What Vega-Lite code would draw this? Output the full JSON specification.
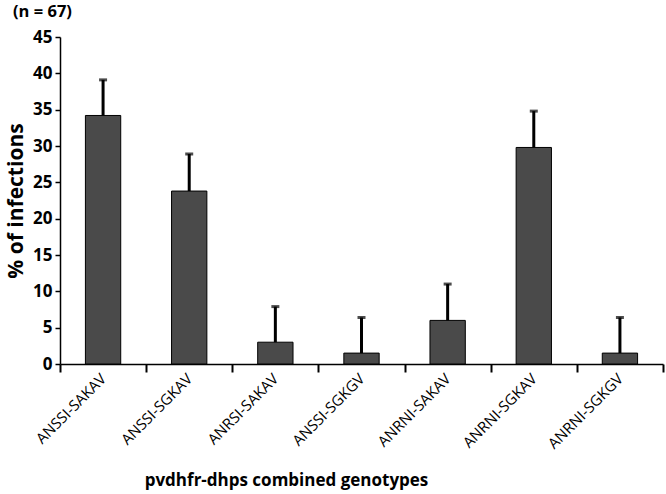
{
  "$schema": "https://vega.github.io/schema/vega-lite/v6.json",
  "autosize": {"type": "none"},
  "padding": {"left": 60, "top": 37, "right": 3, "bottom": 130},
  "width": 603,
  "height": 327,
  "background": "white",
  "title": {"text": "(n = 67)", "anchor": "start", "frame": "group", "dx": -47, "offset": 8, "fontSize": 16.5, "fontWeight": "bold", "font": "Open Sans", "color": "black"},
  "config": {"view": {"stroke": null}, "font": "Open Sans"},
  "data": {"values": [
    {"genotype": "ANSSI-SAKAV", "pct": 34.2, "upper": 39.1},
    {"genotype": "ANSSI-SGKAV", "pct": 23.8, "upper": 28.9},
    {"genotype": "ANRSI-SAKAV", "pct": 3.0, "upper": 7.9},
    {"genotype": "ANSSI-SGKGV", "pct": 1.5, "upper": 6.4},
    {"genotype": "ANRNI-SAKAV", "pct": 6.0, "upper": 11.0},
    {"genotype": "ANRNI-SGKAV", "pct": 29.8, "upper": 34.8},
    {"genotype": "ANRNI-SGKGV", "pct": 1.5, "upper": 6.4}
  ]},
  "encoding": {
    "x": {"field": "genotype", "type": "nominal", "sort": null,
      "scale": {"paddingInner": 0, "paddingOuter": 0},
      "axis": {"title": "pvdhfr-dhps combined genotypes", "labelAngle": -45, "labelAlign": "right", "labelBaseline": "middle", "labelFontSize": 15, "labelColor": "black", "labelPadding": 4,
        "ticks": true, "tickBand": "extent", "tickSize": 8, "tickColor": "#000000", "tickWidth": 2, "tickOpacity": 1, "domainColor": "black", "domainWidth": 1.5,
        "titleFontSize": 17, "titleFontWeight": "bold", "titleColor": "black", "titleX": 226, "titleY": 116, "titleBaseline": "middle"}},
    "y": {"field": "pct", "type": "quantitative",
       "scale": {"domain": [0, 45], "nice": false},
       "axis": {"title": "% of infections", "values": [0,5,10,15,20,25,30,35,40,45], "grid": false, "labelFontSize": 17, "labelFontWeight": "bold", "labelColor": "black", "ticks": true, "tickColor": "black", "tickSize": 5, "tickWidth": 1.5, "domainColor": "black", "domainWidth": 1.5, "labelPadding": 3,
         "titleFontSize": 21, "titleFontWeight": "bold", "titleColor": "black", "titlePadding": 6}}
  },
  "layer": [
    {"mark": {"type": "bar", "color": "#4a4a4a", "stroke": "black", "strokeWidth": 1, "width": {"band": 0.41}}},
    {"mark": {"type": "rule", "color": "black", "strokeWidth": 3},
     "encoding": {"y2": {"field": "upper"}}},
    {"mark": {"type": "tick", "color": "black", "thickness": 3, "size": 8},
     "encoding": {"y": {"field": "upper", "type": "quantitative"}}}
  ]
}
